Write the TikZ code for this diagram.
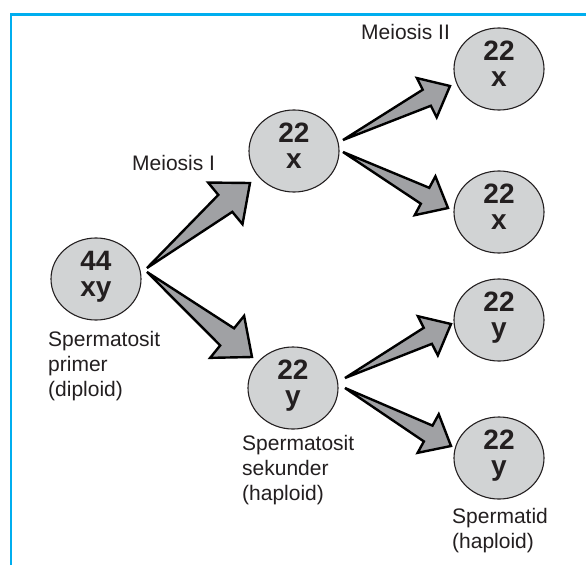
\documentclass[tikz,border=0pt]{standalone}
\usepackage{fontspec}
\setmainfont{Liberation Sans}
\usetikzlibrary{calc,shapes.geometric}
\definecolor{frameblue}{RGB}{0,174,239}
\definecolor{cellgray}{RGB}{209,211,212}
\definecolor{arrowgray}{RGB}{160,161,164}
\definecolor{inkblack}{RGB}{35,31,32}
% tail, tip, head length, head half width, shaft half width
\newcommand\fatarrow[5]{%
  \path ($(#2)!#3!(#1)$) coordinate (hb);
  \filldraw[fatarr] (#1) -- ($(hb)!#5!90:(#2)$) -- ($(hb)!#4!90:(#2)$) -- (#2)
     -- ($(hb)!#4!-90:(#2)$) -- ($(hb)!#5!-90:(#2)$) -- cycle;
}
\newcommand\celltext[2]{\rule{0pt}{20pt}#1\\#2\rule[-12pt]{0pt}{12pt}}
\begin{document}
\begin{tikzpicture}[x=1pt,y=-1pt,
  cell/.style={ellipse, draw=inkblack, line width=1.1pt, fill=cellgray,
    minimum width=90pt, minimum height=81pt, inner sep=0pt, align=center,
    font=\fontsize{28}{26}\selectfont\bfseries, text=inkblack},
  lab/.style={anchor=north west, inner sep=0pt, align=left,
    font=\fontsize{21}{25}\selectfont, text=inkblack},
  title/.style={anchor=base west, inner sep=0pt,
    font=\fontsize{21}{25}\selectfont, text=inkblack},
  fatarr/.style={draw=black, fill=arrowgray, line width=2.4pt, line join=miter, miter limit=6}]
\useasboundingbox (0,0) rectangle (586,565);
\fill[white] (0,0) rectangle (586,565);
% frame
\draw[frameblue, line width=2.7pt] (11,565) -- (11,14.5) -- (586,14.5);
% cells
\node[cell] (A) at (96,279) {\celltext{44}{xy}};
\node[cell] (B) at (294,151) {\celltext{22}{x}};
\node[cell] (C) at (293,388) {\celltext{22}{y}};
\node[cell] (R1) at (499,69) {\celltext{22}{x}};
\node[cell] (R2) at (499,212) {\celltext{22}{x}};
\node[cell] (R3) at (499,320) {\celltext{22}{y}};
\node[cell] (R4) at (499,458) {\celltext{22}{y}};
% arrow ends
\coordinate (t1) at (147,268); \coordinate (h1) at (250,183);
\coordinate (t2) at (147,272); \coordinate (h2) at (252,357);
\coordinate (t3) at (343,140); \coordinate (h3) at (450,86);
\coordinate (t4) at (343,152); \coordinate (h4) at (448,208);
\coordinate (t5) at (345,378); \coordinate (h5) at (451,324);
\coordinate (t6) at (345,388); \coordinate (h6) at (451,446);
\fatarrow{t1}{h1}{32pt}{27pt}{11pt}
\fatarrow{t2}{h2}{32pt}{27pt}{11pt}
\fatarrow{t3}{h3}{26pt}{22pt}{9pt}
\fatarrow{t4}{h4}{26pt}{22pt}{9pt}
\fatarrow{t5}{h5}{26pt}{22pt}{9pt}
\fatarrow{t6}{h6}{26pt}{22pt}{9pt}
% labels
\node[title] (m1) at (132,170) {Meiosis I};
\node[title] (m2) at (361,39) {Meiosis II};
\node[lab] (lA) at (48,328) {\rule{0pt}{18pt}Spermatosit\\primer\\(diploid)};
\node[lab] (lC) at (242,432) {\rule{0pt}{18pt}Spermatosit\\sekunder\\(haploid)};
\node[lab] (lR) at (452,505) {\rule{0pt}{18pt}Spermatid\\(haploid)};
\end{tikzpicture}
\end{document}
